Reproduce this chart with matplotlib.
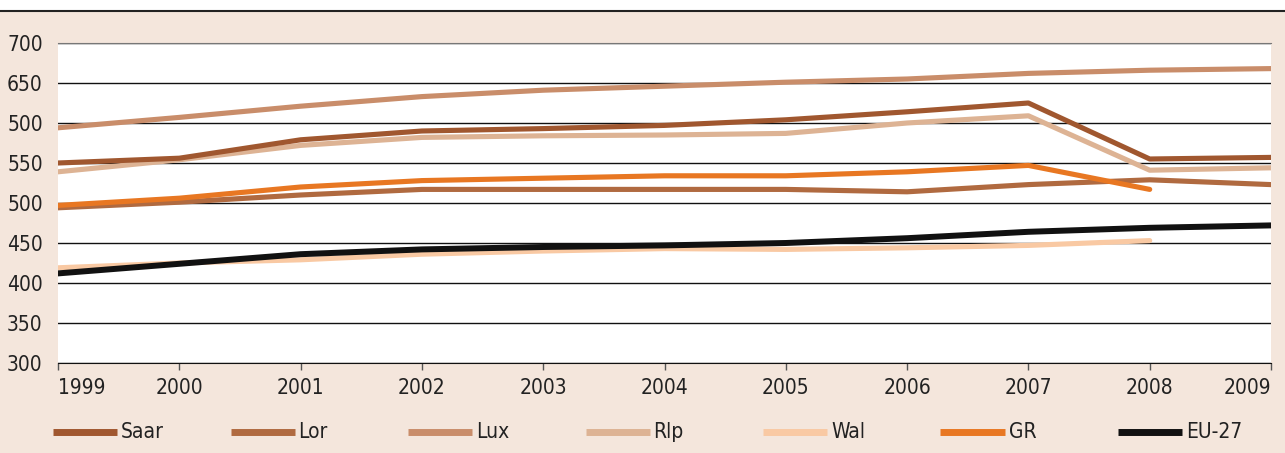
import numpy as np
import matplotlib.pyplot as plt
from matplotlib.lines import Line2D

years = [1999, 2000, 2001, 2002, 2003, 2004, 2005, 2006, 2007, 2008, 2009]
saar = [550, 556, 579, 590, 593, 597, 604, 614, 625, 555, 557]
lor = [494, 501, 510, 517, 517, 517, 517, 514, 523, 529, 523]
lux = [594, 607, 621, 633, 641, 646, 651, 655, 662, 666, 668]
rlp = [539, 554, 572, 582, 584, 585, 587, 600, 609, 541, 544]
wal = [419, 425, 429, 436, 440, 443, 442, 444, 447, 453, np.nan]
gr = [497, 506, 520, 528, 531, 534, 534, 539, 547, 517, np.nan]
eu27 = [412, 424, 436, 442, 445, 447, 450, 456, 464, 469, 472]

y_ticks = [300, 350, 400, 450, 500, 550, 600, 650, 700]
y_labels = ['300', '350', '400', '450', '500', '550', '500', '650', '700']

series = [
    ('Saar', saar, '#A0572F'),
    ('Lor', lor, '#B06A40'),
    ('Lux', lux, '#C98D6A'),
    ('Rlp', rlp, '#DDB394'),
    ('Wal', wal, '#F9C9A3'),
    ('GR', gr, '#E87722'),
    ('EU-27', eu27, '#111111'),
]
draw_order = ['Lux', 'Rlp', 'Saar', 'Lor', 'GR', 'Wal', 'EU-27']

fam = ['Liberation Sans Narrow', 'DejaVu Sans']
font = dict(family=fam, stretch='condensed', size=15, color='#222222')
bg = '#F4E6DC'

fig = plt.figure(figsize=(12.85, 4.53), dpi=100)
fig.patch.set_facecolor(bg)
# white strip at the top with a dark rule
fig.patches.append(plt.Rectangle((0, 1 - 10 / 453), 1, 10 / 453, transform=fig.transFigure,
                                 facecolor='white', edgecolor='none', zorder=0))
fig.lines.append(Line2D([0, 1], [1 - 11 / 453, 1 - 11 / 453], transform=fig.transFigure,
                        color='#222222', lw=1.5))

ax = fig.add_axes([58 / 1285, 1 - 363 / 453, (1271 - 58) / 1285, 320 / 453])
ax.set_facecolor('white')

lookup = {name: (vals, col) for name, vals, col in series}
for name in draw_order:
    vals, col = lookup[name]
    lw = 4.3 if name == 'EU-27' else 3.7
    ax.plot(years, vals, color=col, lw=lw, solid_capstyle='round', zorder=3)

ax.set_xlim(1999, 2009)
ax.set_ylim(300, 700)
ax.set_yticks(y_ticks)
ax.set_yticklabels(y_labels, **font)
ax.set_xticks(years)
xl = ax.set_xticklabels([str(y) for y in years], **font)
xl[0].set_ha('left')
xl[-1].set_ha('right')
ax.grid(axis='y', color='#111111', lw=1.0, zorder=1)
ax.tick_params(axis='y', length=0, pad=11)
ax.tick_params(axis='x', length=5, width=1, color='#555555', pad=6)
for s in ['left', 'right']:
    ax.spines[s].set_visible(False)
ax.spines['top'].set_color('#777777')
ax.spines['bottom'].set_color('#111111')

# legend row along the bottom
ly = 1 - 432 / 453
for i, (name, _, col) in enumerate(series):
    x0 = (53 + i * 177.5) / 1285
    fig.lines.append(Line2D([x0, x0 + 64 / 1285], [ly, ly], transform=fig.transFigure,
                            color=col, lw=5, solid_capstyle='butt'))
    fig.text(x0 + 68 / 1285, ly, name, va='center', ha='left', **font)

fig.savefig('out.png', dpi=100, facecolor=bg)
